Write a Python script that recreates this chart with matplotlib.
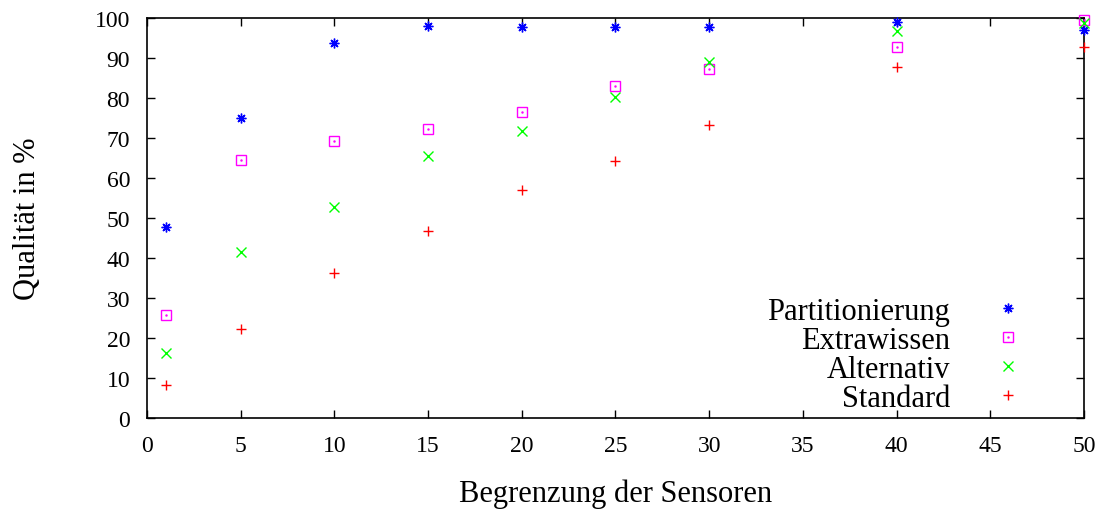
import matplotlib
matplotlib.use("Agg")
import matplotlib.pyplot as plt
from matplotlib.legend_handler import HandlerTuple

# Werte
begrenzung = [1, 5, 10, 15, 20, 25, 30, 40, 50]
partitionierung = [47.8, 75.0, 93.8, 98.0, 97.8, 97.8, 97.8, 99.0, 97.0]
extrawissen = [25.8, 64.4, 69.2, 72.3, 76.4, 83.1, 87.2, 92.8, 99.5]
alternativ = [16.2, 41.4, 52.8, 65.5, 71.7, 80.3, 89.0, 96.6, 98.6]
standard = [8.4, 22.3, 36.3, 46.8, 57.0, 64.3, 73.3, 87.8, 92.8]

plt.rcParams['font.family'] = ['Liberation Serif', 'DejaVu Serif']

fig = plt.figure(figsize=(11.12, 5.10), dpi=100)
ax = fig.add_axes([0.132, 0.178, 0.843, 0.785])

ms = 7
h_part = ax.plot(begrenzung, partitionierung, ls='none', marker=(8, 2, 0),
                 ms=ms, mec='#0000ff', mew=1.0, clip_on=False, zorder=3)[0]
h_ext = ax.plot(begrenzung, extrawissen, ls='none', marker='s', ms=ms,
                mfc='none', mec='#ff00ff', mew=1.0, clip_on=False, zorder=3)[0]
h_ext_dot = ax.plot(begrenzung, extrawissen, ls='none', marker='.', ms=1.5,
                    color='#ff00ff', clip_on=False, zorder=3)[0]
h_alt = ax.plot(begrenzung, alternativ, ls='none', marker='x', ms=ms,
                mec='#00ff00', mew=1.0, clip_on=False, zorder=3)[0]
h_std = ax.plot(begrenzung, standard, ls='none', marker='+', ms=ms,
                mec='#ff0000', mew=1.0, clip_on=False, zorder=3)[0]

ax.set_xlim(0, 50)
ax.set_ylim(0, 100)
ax.set_xticks(range(0, 51, 5))
ax.set_yticks(range(0, 101, 10))
ax.tick_params(direction='in', top=True, right=True, length=6, width=1,
               labelsize=17, pad=12)
for s in ax.spines.values():
    s.set_linewidth(1.2)

ax.set_xlabel('Begrenzung der Sensoren', fontsize=22, labelpad=16)
ax.set_ylabel('Qualität in %', fontsize=22, labelpad=38)

leg = ax.legend([h_part, (h_ext, h_ext_dot), h_alt, h_std],
                ['Partitionierung', 'Extrawissen', 'Alternativ', 'Standard'],
                handler_map={tuple: HandlerTuple(ndivide=1, pad=0)},
                loc='lower right', bbox_to_anchor=(0.958, -0.04),
                markerfirst=False, frameon=False, fontsize=22,
                handlelength=1.0, handletextpad=1.4, labelspacing=0.0,
                borderpad=0.2)

fig.savefig('out.png', dpi=100)
